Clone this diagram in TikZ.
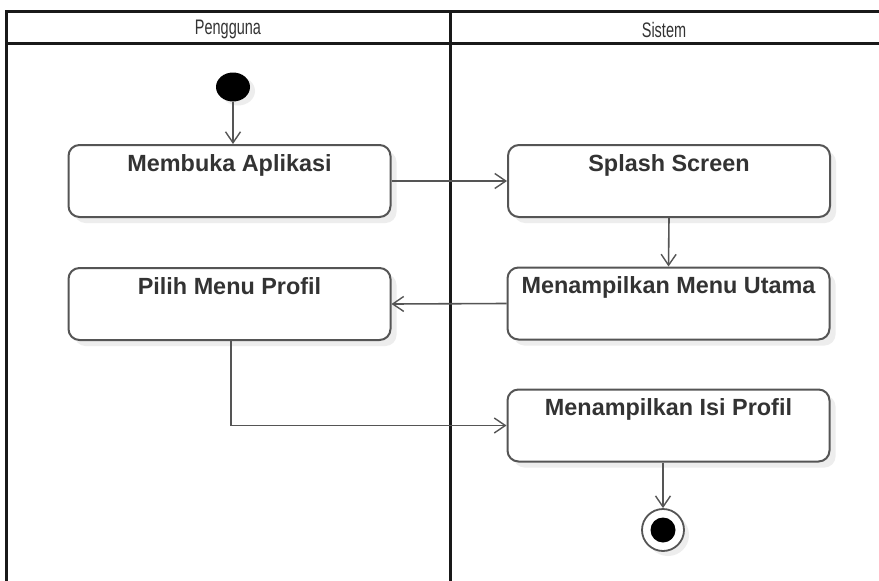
\documentclass[tikz,border=0pt]{standalone}
\usepackage{fontspec}
\setmainfont{Liberation Sans}
\usetikzlibrary{arrows.meta,shadows,shapes.geometric}
\definecolor{edge}{HTML}{555555}
\definecolor{ink}{HTML}{333333}
\tikzset{
  lane/.style={line width=3pt, draw=black!90},
  act/.style={draw=edge, line width=2pt, rounded corners=11pt, fill=white,
    minimum width=322pt, minimum height=72pt, inner sep=0pt,
    drop shadow={shadow xshift=6pt, shadow yshift=-6pt, fill=black!7, opacity=1}},
  acttext/.style={font=\bfseries\fontsize{23.4}{27}\selectfont, text=ink, inner sep=0pt, anchor=north},
  headtext/.style={font=\fontsize{21}{25}\selectfont, text=ink, inner sep=0pt},
  flow/.style={draw=edge, line width=1.6pt, -{Straight Barb[length=11pt,width=15pt,line width=1.4pt]}},
}
\begin{document}
\begin{tikzpicture}[x=1pt,y=-1pt]
\useasboundingbox (0,0) rectangle (879,581);
\fill[white] (0,0) rectangle (879,581);

% swimlane frame
\draw[lane] (6,581) -- (6,11) -- (879,11);
\draw[lane] (6,43) -- (879,43);
\draw[lane] (450,11) -- (450,581);
\node[headtext] (h1) at (228,29.5) {\scalebox{0.69}[1]{Pengguna}};
\node[headtext] (h2) at (664,29.5) {\scalebox{0.69}[1]{Sistem}};

% start node
\node[ellipse, fill=black, minimum width=34pt, minimum height=29pt, inner sep=0pt,
  drop shadow={shadow xshift=5pt, shadow yshift=-4pt, fill=black!7, opacity=1}] (start) at (233,87) {};

% activities
\node[act] (m1) at (229.5,181) {};
\node[acttext] (t1) at ([yshift=-10pt]m1.north) {Membuka Aplikasi};
\node[act] (s1) at (669,181) {};
\node[acttext] (t2) at ([yshift=-10pt]s1.north) {Splash Screen};
\node[act] (s2) at (668.5,303.5) {};
\node[acttext] (t3) at ([yshift=-10pt]s2.north) {Menampilkan Menu Utama};
\node[act] (m2) at (229.5,304) {};
\node[acttext] (t4) at ([yshift=-10pt]m2.north) {Pilih Menu Profil};
\node[act] (s3) at (668.5,425.5) {};
\node[acttext] (t5) at ([yshift=-10pt]s3.north) {Menampilkan Isi Profil};

% end node
\node[circle, draw=edge, line width=1.8pt, fill=white, minimum size=42pt, inner sep=0pt,
  drop shadow={shadow xshift=5pt, shadow yshift=-5pt, fill=black!7, opacity=1}] (end) at (663,530) {};
\node[circle, fill=black, minimum size=25pt, inner sep=0pt] (endin) at (end.center) {};

% flows
\draw[flow] (start.south) -- (start.south |- m1.north);
\draw[flow] (m1.east) -- (s1.west);
\draw[flow] (s1.south) -- (s2.north);
\draw[flow] (s2.west) -- (m2.east);
\draw[flow] ([xshift=1.5pt]m2.south) |- (s3.west);
\draw[flow] (s3.south -| end.north) -- (end.north);
\end{tikzpicture}
\end{document}
